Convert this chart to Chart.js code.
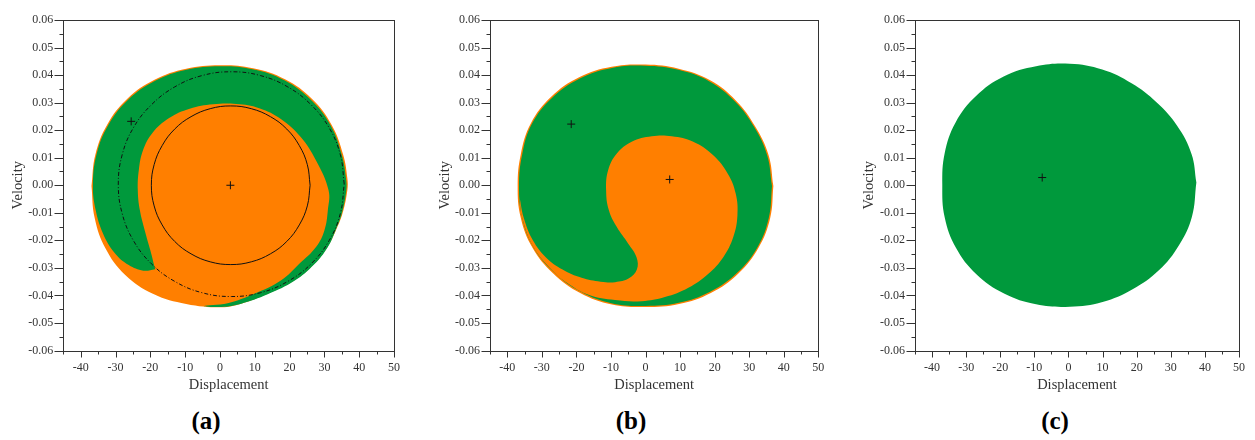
<!DOCTYPE html>
<html>
<head>
<meta charset="utf-8">
<script src="https://cdn.jsdelivr.net/npm/chart.js@4.4.1/dist/chart.umd.min.js"></script>
<style>
  body { margin: 0; background: #fff; width: 1255px; height: 440px; position: relative; overflow: hidden; }
  .panel { position: absolute; top: 0; height: 400px; }
  .tag { position: absolute; top: 406px; width: 60px; margin-left: -30px; text-align: center;
         font: bold 25px "Liberation Serif", Tinos, "DejaVu Serif", "Noto Serif", serif; line-height: 30px; color: #000; }
</style>
</head>
<body>
<div class="panel" style="left:0;width:410px"><canvas id="chartA"></canvas></div>
<div class="panel" style="left:420px;width:420px"><canvas id="chartB"></canvas></div>
<div class="panel" style="left:855px;width:400px"><canvas id="chartC"></canvas></div>
<div class="tag" style="left:206px">(a)</div>
<div class="tag" style="left:631px">(b)</div>
<div class="tag" style="left:1055px">(c)</div>
<script>
// axis ranges (displacement, velocity)
const xRange = [-45, 50];
const yRange = [-0.06, 0.06];

const orange = "#ff7f00";
const green = "#00993c";

// panel (a): basin outline, green crescent, two orbits, fixed points
const aOuter = [
  [-36.9, -0.0003], [-36.0, -0.0118], [-32.9, -0.0229], [-27.2, -0.0326], [-19.1, -0.0395],
  [-9.7, -0.0431], [0.5, -0.0443], [6.1, -0.0430], [13.7, -0.0394], [21.4, -0.0345],
  [27.1, -0.0285], [30.9, -0.0224], [33.3, -0.0164], [35.2, -0.0103], [36.6, -0.0018],
  [36.6, 0.0025], [35.4, 0.0111], [32.1, 0.0219], [26.4, 0.0314], [18.7, 0.0385],
  [9.5, 0.0425], [-0.1, 0.0436], [-9.7, 0.0423], [-18.8, 0.0383], [-26.6, 0.0314],
  [-32.4, 0.0220], [-35.8, 0.0111]
];
const aGreen = [
  [-18.6, -0.0305], [-20.0, -0.0236], [-21.6, -0.0164], [-23.0, -0.0091], [-23.6, -0.0018],
  [-23.3, 0.0055], [-22.1, 0.0127], [-19.4, 0.0190], [-14.6, 0.0244], [-8.7, 0.0278],
  [-2.0, 0.0294], [4.7, 0.0295], [11.3, 0.0280], [17.6, 0.0240], [23.2, 0.0175],
  [27.6, 0.0090], [31.2, -0.0018], [31.0, -0.0090], [30.0, -0.0164], [27.6, -0.0224],
  [22.8, -0.0285], [17.6, -0.0345], [9.9, -0.0394], [2.2, -0.0428], [-4.5, -0.0438],
  [0.5, -0.0442], [6.1, -0.0430], [13.7, -0.0396], [21.4, -0.0347], [27.1, -0.0287],
  [30.9, -0.0226], [33.2, -0.0164], [35.0, -0.0103], [36.3, -0.0018], [36.2, 0.0025],
  [35.0, 0.0110], [31.8, 0.0217], [26.1, 0.0310], [18.5, 0.0381], [9.4, 0.0421],
  [-0.1, 0.0432], [-9.6, 0.0419], [-18.6, 0.0379], [-26.3, 0.0311], [-32.1, 0.0218],
  [-35.5, 0.0110], [-36.5, -0.0003], [-35.7, -0.0090], [-33.6, -0.0175], [-30.3, -0.0245],
  [-26.2, -0.0290], [-22.0, -0.0310]
];
const aOrbitSmall = [
  [25.9, 0], [25.1, 0.0075], [22.8, 0.0144], [19.2, 0.0204], [14.5, 0.0249], [9.0, 0.0278],
  [3.1, 0.0288], [-2.8, 0.0278], [-8.3, 0.0249], [-13.0, 0.0204], [-16.6, 0.0144], [-18.9, 0.0075],
  [-19.7, 0], [-18.9, -0.0075], [-16.6, -0.0144], [-13.0, -0.0204], [-8.3, -0.0249], [-2.8, -0.0278],
  [3.1, -0.0288], [9.0, -0.0278], [14.5, -0.0249], [19.2, -0.0204], [22.8, -0.0144], [25.1, -0.0075]
];
const aOrbitLarge = [
  [35.7, 0.0004], [34.6, 0.0110], [31.4, 0.0208], [26.2, 0.0292], [19.5, 0.0357], [11.7, 0.0398],
  [3.3, 0.0412], [-5.2, 0.0398], [-13.0, 0.0357], [-19.7, 0.0292], [-24.9, 0.0208], [-28.1, 0.0110],
  [-29.2, 0.0004], [-28.1, -0.0102], [-24.9, -0.0200], [-19.7, -0.0285], [-13.0, -0.0349], [-5.2, -0.0390],
  [3.3, -0.0404], [11.7, -0.0390], [19.5, -0.0349], [26.2, -0.0285], [31.4, -0.0200], [34.6, -0.0102]
];
const aPoints = [[3.0, 0.0], [-25.5, 0.0232]];

// panel (b)
const bOuter = [
  [37.0, -0.0003], [35.6, 0.0110], [31.7, 0.0214], [26.2, 0.0307], [18.7, 0.0381],
  [9.6, 0.0423], [0.0, 0.0438], [-9.8, 0.0430], [-19.2, 0.0392], [-27.3, 0.0321],
  [-33.2, 0.0224], [-36.1, 0.0112], [-37.0, -0.0003], [-36.1, -0.0118], [-32.7, -0.0227],
  [-26.7, -0.0320], [-18.9, -0.0391], [-9.7, -0.0433], [0.0, -0.0442], [9.7, -0.0431],
  [18.9, -0.0391], [26.8, -0.0321], [32.7, -0.0227], [36.1, -0.0118]
];
const bGreen = [
  [36.6, -0.0003], [35.2, 0.0109], [31.4, 0.0212], [25.9, 0.0304], [18.5, 0.0377],
  [9.5, 0.0419], [0.0, 0.0434], [-9.7, 0.0426], [-19.0, 0.0388], [-27.0, 0.0318],
  [-32.9, 0.0222], [-35.7, 0.0111], [-36.6, -0.0003], [-35.7, -0.0117], [-32.4, -0.0225],
  [-26.4, -0.0317], [-18.7, -0.0387], [-9.6, -0.0429], [0.0, -0.0438], [9.6, -0.0427],
  [18.7, -0.0387], [26.5, -0.0318], [32.4, -0.0225], [35.7, -0.0117]
];
const bOrange = [
  [-36.5, -0.0040], [-35.2, -0.0120], [-32.6, -0.0200], [-28.8, -0.0262], [-24.0, -0.0306],
  [-18.5, -0.0336], [-13.0, -0.0350], [-8.8, -0.0352], [-4.8, -0.0338], [-2.5, -0.0306],
  [-2.6, -0.0261], [-5.0, -0.0212], [-8.3, -0.0152], [-10.6, -0.0091], [-11.4, -0.0018],
  [-10.8, 0.0055], [-8.3, 0.0115], [-4.0, 0.0158], [1.8, 0.0178], [7.6, 0.0178],
  [13.8, 0.0158], [19.6, 0.0109], [23.8, 0.0042], [26.1, -0.0030], [26.6, -0.0109],
  [25.4, -0.0188], [22.5, -0.0261], [18.2, -0.0321], [12.4, -0.0372], [5.6, -0.0406],
  [-1.1, -0.0421], [-8.8, -0.0417], [-16.5, -0.0398], [-23.0, -0.0352], [-26.4, -0.0317],
  [-32.4, -0.0225], [-35.7, -0.0117]
];
const bPoints = [[7.0, 0.0021], [-21.5, 0.0222]];

// panel (c)
const cGreen = [
  [37.5, 0.0010], [36.1, 0.0113], [31.9, 0.0215], [25.8, 0.0301], [18.5, 0.0370],
  [9.9, 0.0420], [0.4, 0.0441], [-9.5, 0.0432], [-19.0, 0.0395], [-27.1, 0.0324],
  [-33.1, 0.0228], [-36.3, 0.0116], [-37.0, 0.0000], [-36.3, -0.0116], [-33.0, -0.0227],
  [-27.0, -0.0323], [-18.9, -0.0393], [-9.5, -0.0432], [0.4, -0.0441], [10.0, -0.0424],
  [18.8, -0.0378], [26.5, -0.0309], [32.4, -0.0218], [36.2, -0.0114]
];
const cPoints = [[-7.7, 0.0028]];

const family = "'Liberation Serif', Tinos, 'DejaVu Serif', 'Noto Serif', serif";
const ink = "#333";

const closed = list => list.concat([list[0]]).map(([x, y]) => ({ x, y }));
const pts = list => list.map(([x, y]) => ({ x, y }));

function region(list, color, order) {
  return {
    data: closed(list), showLine: true, fill: "shape", backgroundColor: color,
    borderWidth: 0, pointRadius: 0, tension: 0.4, order: order,
  };
}
function orbit(list, dash) {
  return {
    data: closed(list), showLine: true, fill: false, borderColor: "#111",
    borderWidth: 1, borderDash: dash, pointRadius: 0, tension: 0.4, order: 2,
  };
}
function marks(list) {
  return {
    data: pts(list), showLine: false, pointStyle: "cross", pointRadius: 4,
    borderColor: "#111", borderWidth: 1, order: 1,
  };
}

// box around the plot plus major/minor tick marks
const frameTicks = {
  id: "frameTicks",
  afterDraw(chart) {
    const { ctx, chartArea: a, scales: { x, y } } = chart;
    ctx.save();
    ctx.strokeStyle = ink;
    ctx.lineWidth = 1;
    ctx.strokeRect(Math.round(a.left) + 0.5, Math.round(a.top) + 0.5,
      Math.round(a.width), Math.round(a.height));
    ctx.beginPath();
    const bottom = Math.round(a.bottom) + 0.5;
    const left = Math.round(a.left) + 0.5;
    x.ticks.forEach(t => {
      const px = Math.round(x.getPixelForValue(t.value)) + 0.5;
      ctx.moveTo(px, bottom);
      ctx.lineTo(px, bottom + (t.label ? 6 : 3));
    });
    y.ticks.forEach(t => {
      const py = Math.round(y.getPixelForValue(t.value)) + 0.5;
      ctx.moveTo(left, py);
      ctx.lineTo(left - (t.label ? 9 : 4), py);
    });
    ctx.stroke();
    ctx.restore();
  },
};

function makePanel(id, datasets, padLeft, padRight, yWidth) {
  new Chart(document.getElementById(id), {
    type: "scatter",
    data: { datasets },
    options: {
      responsive: true,
      maintainAspectRatio: false,
      animation: false,
      events: [],
      layout: { padding: { left: padLeft, right: padRight, top: 20, bottom: 4.5 } },
      scales: {
        x: {
          type: "linear", min: xRange[0], max: xRange[1],
          grid: { display: false, drawTicks: false },
          border: { display: false },
          ticks: {
            stepSize: 5, autoSkip: false, maxRotation: 0, padding: 10, color: ink,
            font: { family, size: 12 },
            callback: v => (v % 10 === 0 ? String(v) : ""),
          },
          title: { display: true, text: "Displacement", color: ink,
                   font: { family, size: 14.5 }, padding: { top: 0, bottom: 2 } },
          afterFit: s => { s.height = 45; },
        },
        y: {
          type: "linear", min: yRange[0], max: yRange[1],
          grid: { display: false, drawTicks: false },
          border: { display: false },
          ticks: {
            stepSize: 0.005, autoSkip: false, padding: 10, color: ink,
            font: { family, size: 12 },
            callback: v => (Math.abs(Math.round(v * 1000)) % 10 === 0 ? v.toFixed(2) : ""),
          },
          title: { display: true, text: "Velocity", color: ink,
                   font: { family, size: 14.5 }, padding: { top: 3, bottom: 0 } },
          afterFit: s => { s.width = yWidth; },
        },
      },
      plugins: { legend: { display: false }, tooltip: { enabled: false } },
    },
    plugins: [frameTicks],
  });
}

makePanel("chartA", [
  marks(aPoints),
  orbit(aOrbitSmall, []),
  orbit(aOrbitLarge, [4, 2, 1, 2]),
  region(aGreen, green, 4),
  region(aOuter, orange, 5),
], 6, 15, 57.3);

makePanel("chartB", [
  marks(bPoints),
  region(bOrange, orange, 3),
  region(bGreen, green, 4),
  region(bOuter, orange, 5),
], 13.6, 21.7, 56.4);

makePanel("chartC", [
  marks(cPoints),
  region(cGreen, green, 4),
], 2.1, 10.7, 57.9);
</script>
</body>
</html>
